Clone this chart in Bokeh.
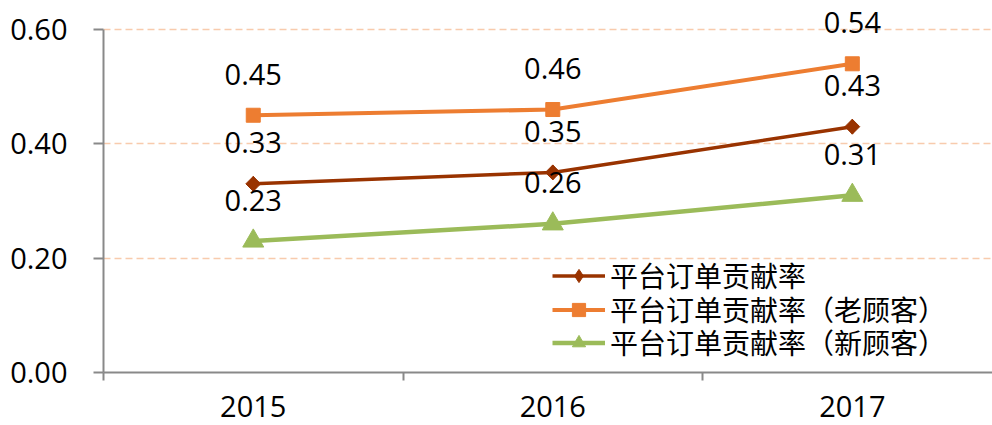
from bokeh.plotting import figure
from bokeh.models import (ColumnDataSource, FixedTicker, Range1d, LabelSet,
                          Legend, LegendItem)
from bokeh.embed import file_html
from bokeh.resources import INLINE
from bokeh.core.properties import value
import math

# ---- data ----
years = ["2015", "2016", "2017"]
total = [0.33, 0.35, 0.43]
old_cust = [0.45, 0.46, 0.54]
new_cust = [0.23, 0.26, 0.31]
names = ["平台订单贡献率", "平台订单贡献率（老顾客）", "平台订单贡献率（新顾客）"]
y_ticks = [0.0, 0.2, 0.4, 0.6]

x_pos = [i + 0.5 for i in range(len(years))]
boundaries = [i for i in range(len(years) + 1)]

p = figure(width=992, height=425, output_backend="svg", toolbar_location=None,
           x_range=Range1d(0, 2.968), y_range=Range1d(0, 0.6437),
           min_border_left=103, min_border_right=0, min_border_top=4,
           min_border_bottom=53)
p.outline_line_color = None
p.background_fill_color = "white"
p.border_fill_color = "white"

axis_color = "#898989"
num_font = "Open Sans"
num_size = "29px"

# x axis
p.xaxis.ticker = FixedTicker(ticks=x_pos, minor_ticks=boundaries)
p.xaxis.major_label_overrides = {x: y for x, y in zip(x_pos, years)}
p.xaxis.major_tick_line_color = None
p.xaxis.minor_tick_line_color = axis_color
p.xaxis.minor_tick_line_width = 2
p.xaxis.minor_tick_out = 8
p.xaxis.minor_tick_in = 0
p.xaxis.axis_line_color = axis_color
p.xaxis.axis_line_width = 2
p.xaxis.major_label_standoff = 15
p.xaxis.major_label_text_font = num_font
p.xaxis.major_label_text_font_size = num_size
p.xaxis.major_label_text_color = "black"

# y axis
p.yaxis.ticker = FixedTicker(ticks=y_ticks)
p.yaxis.bounds = (y_ticks[0], y_ticks[-1])
p.yaxis.major_label_overrides = {t: f"{t:.2f}" for t in y_ticks}
p.yaxis.minor_tick_line_color = None
p.yaxis.major_tick_line_color = axis_color
p.yaxis.major_tick_line_width = 2
p.yaxis.major_tick_out = 10
p.yaxis.major_tick_in = 0
p.yaxis.axis_line_color = axis_color
p.yaxis.axis_line_width = 2
p.yaxis.major_label_standoff = 26
p.yaxis.major_label_text_font = num_font
p.yaxis.major_label_text_font_size = num_size
p.yaxis.major_label_text_color = "black"

# grid
p.xgrid.grid_line_color = None
p.ygrid.ticker = FixedTicker(ticks=y_ticks)
p.ygrid.grid_line_color = "#F8CBAD"
p.ygrid.grid_line_width = 1.5
p.ygrid.grid_line_dash = "7 4"

series = [
    (total, "#993300", "diamond", 15, 3.5),
    (old_cust, "#ED7D31", "square", 14, 4),
    (new_cust, "#9BBB59", "triangle", 21, 4.5),
]

items = []
for vals, color, marker, size, lw in series:
    src = ColumnDataSource(dict(x=x_pos, y=vals, t=[f"{v:.2f}" for v in vals]))
    ln = p.line("x", "y", source=src, line_color=color, line_width=lw)
    if marker == "diamond":
        # rotated square gives the square-proportioned diamond of the original
        p.scatter("x", "y", source=src, marker="square", size=10.5,
                  angle=math.pi / 4, fill_color=color, line_color=color)
    sc = p.scatter("x", "y", source=src, marker=marker, size=size,
                   fill_color=color, line_color=color)
    lab = LabelSet(x="x", y="y", text="t", source=src, y_offset=41,
                   text_align="center", text_baseline="middle",
                   text_font=value(num_font), text_font_size=num_size,
                   text_color="black")
    p.add_layout(lab)
    items.append((ln, sc))

# one legend per row so the row pitch matches the original
legend_y = [77, 43, 10]
for n, (ln, sc), ly in zip(names, items, legend_y):
    legend = Legend(items=[LegendItem(label=n, renderers=[ln, sc])],
                    location=(449, ly), padding=0, margin=0, spacing=0,
                    glyph_width=53, glyph_height=33, label_height=33,
                    label_standoff=5,
                    label_text_font="Noto Sans CJK SC",
                    label_text_font_size="28px",
                    label_text_color="black", label_text_baseline="middle",
                    background_fill_alpha=0, border_line_color=None)
    p.add_layout(legend, "center")

open("out.html", "w").write(file_html(p, INLINE))
